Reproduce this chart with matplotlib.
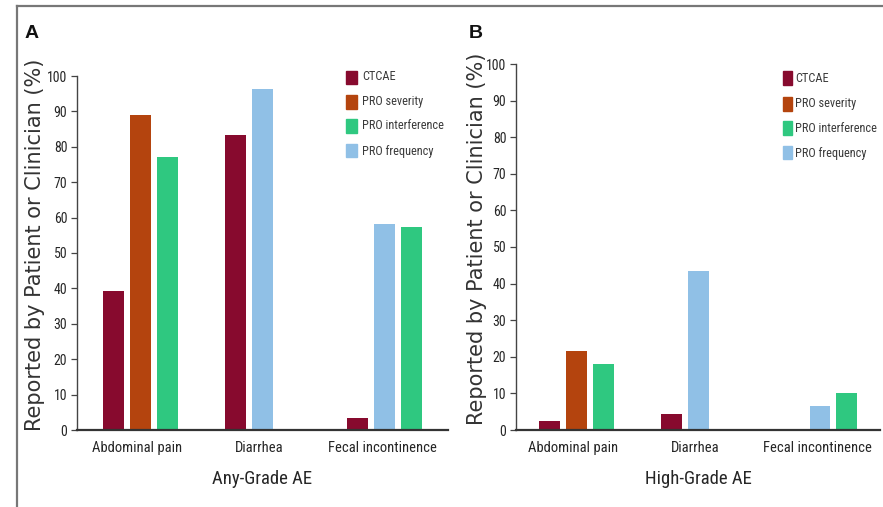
import matplotlib
matplotlib.use("Agg")
import matplotlib.pyplot as plt
from matplotlib.patches import Rectangle
from matplotlib.lines import Line2D

plt.rcParams['font.family'] = ['Roboto Condensed', 'DejaVu Sans']

categories = ["Abdominal pain", "Diarrhea", "Fecal incontinence"]
series_names = ["CTCAE", "PRO severity", "PRO interference", "PRO frequency"]
colors = {"CTCAE": "#870a2e", "PRO severity": "#b4440e",
          "PRO interference": "#2fc880", "PRO frequency": "#90c0e6"}

# Panel A: any-grade AE
any_ctcae = [39.4, 83.3, 3.3]
any_severity = [89.0, None, None]
any_interference = [77.2, None, 57.3]
any_frequency = [None, 96.3, 58.2]

# Panel B: high-grade AE
high_ctcae = [2.5, 4.5, 0.0]
high_severity = [21.5, None, None]
high_interference = [18.0, None, 10.0]
high_frequency = [None, 43.5, 6.5]

yticks = [0, 10, 20, 30, 40, 50, 60, 70, 80, 90, 100]
ylabel_text = "Reported by Patient or Clinician (%)"

fig = plt.figure(figsize=(8.83, 5.07), dpi=100)
W, H = 883, 507

def fx(px):
    return px / W

def fy(py):
    return 1 - py / H

# frame lines
fig.add_artist(Line2D([fx(17), fx(17)], [fy(6), 0], color="#777777", lw=1.6))
fig.add_artist(Line2D([fx(17), 1], [fy(6), fy(6)], color="#777777", lw=1.6))

bar_order = ["CTCAE", "PRO severity", "PRO frequency", "PRO interference"]
unit = 122.5
slot = 27 / unit
bw = 21 / unit
first_off = -24 / unit
TXT = "#262626"

def draw_panel(ax, data, xlabel, xlim, height_px):
    for i, cat in enumerate(categories):
        k = 0
        for name in bar_order:
            v = data[name][i]
            if v is None:
                continue
            ax.bar(i + first_off + k * slot, v, width=bw, color=colors[name],
                   edgecolor="none", zorder=2)
            k += 1
    ax.set_xlim(*xlim)
    ax.set_ylim(0, 100)
    ax.set_yticks(yticks)
    ax.set_yticklabels([str(t) for t in yticks], fontsize=10, color=TXT)
    ax.set_xticks(range(len(categories)))
    ax.set_xticklabels(categories, fontsize=10.5, color=TXT)
    ax.tick_params(axis="x", length=0, pad=8)
    ax.tick_params(axis="y", direction="out", length=4, width=0.9, pad=3, color="#444444")
    for s in ["top", "right"]:
        ax.spines[s].set_visible(False)
    ax.spines["left"].set_color("#444444")
    ax.spines["bottom"].set_color("#333333")
    ax.spines["left"].set_linewidth(1.0)
    ax.spines["bottom"].set_linewidth(1.6)
    ax.set_xlabel(xlabel, fontsize=13.5, color=TXT)
    ax.xaxis.set_label_coords(0.5, -(470 - 430) / height_px)
    ax.set_facecolor("none")

# Panel A
hA = 430 - 76
axA = fig.add_axes([fx(77), fy(430), fx(448) - fx(77), fy(76) - fy(430)])
draw_panel(axA, {"CTCAE": any_ctcae, "PRO severity": any_severity,
                 "PRO interference": any_interference, "PRO frequency": any_frequency},
           "Any-Grade AE", (-0.49, 2.539), hA)

# Panel B
hB = 430 - 64
axB = fig.add_axes([fx(516), fy(430), fx(880) - fx(516), fy(64) - fy(430)])
draw_panel(axB, {"CTCAE": high_ctcae, "PRO severity": high_severity,
                 "PRO interference": high_interference, "PRO frequency": high_frequency},
           "High-Grade AE", (-0.472, 2.517), hB)

# y-axis titles
fig.text(fx(35), fy(245), ylabel_text, rotation=90, fontsize=15, ha="center",
         va="center", family=["DejaVu Sans"], color="#333333")
fig.text(fx(477), fy(239), ylabel_text, rotation=90, fontsize=15, ha="center",
         va="center", family=["DejaVu Sans"], color="#333333")

# legends
def legend(x_sq, sq_w, x_txt, ys):
    for name, y in zip(series_names, ys):
        fig.add_artist(Rectangle((fx(x_sq), fy(y + 6.5)), sq_w / W, 13 / H,
                                 color=colors[name], transform=fig.transFigure))
        fig.text(fx(x_txt), fy(y), name, fontsize=8.8, va="center", ha="left",
                 color="#3a3a3a")

legend(346, 11, 362, [77, 102, 126, 151])
legend(783, 9, 795, [78, 104, 128, 153])

fig.text(fx(25), fy(34), "A", fontsize=14, fontweight="bold", va="center",
         family=["Liberation Sans", "DejaVu Sans"], color="#111111")
fig.text(fx(469), fy(34), "B", fontsize=14, fontweight="bold", va="center",
         family=["Liberation Sans", "DejaVu Sans"], color="#111111")

fig.savefig("out.png", dpi=100)
